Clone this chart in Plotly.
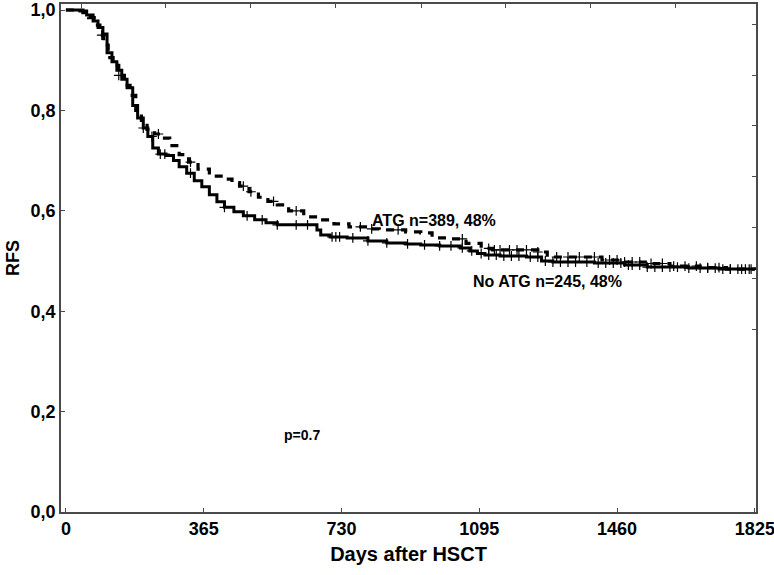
import numpy as np
import plotly.graph_objects as go

# Kaplan-Meier step points (day, RFS)
no_atg_days = [0, 20, 37, 55, 72, 85, 98, 109, 122, 135, 148, 162, 177, 190, 205, 217,
               230, 245, 265, 285, 300, 320, 340, 360, 380, 400, 420, 445, 470, 500,
               530, 560, 600, 650, 665, 675, 700, 745, 800, 850, 900, 940, 990, 1045,
               1070, 1090, 1110, 1150, 1220, 1260, 1290, 1400, 1480, 1540, 1650, 1730, 1825]
no_atg_rfs = [1.0, 1.0, 0.998, 0.99, 0.978, 0.965, 0.952, 0.915, 0.897, 0.88, 0.862, 0.845,
              0.81, 0.785, 0.765, 0.748, 0.725, 0.713, 0.71, 0.70, 0.688, 0.675, 0.66, 0.648,
              0.632, 0.618, 0.607, 0.598, 0.59, 0.582, 0.576, 0.572, 0.572, 0.572, 0.562,
              0.552, 0.548, 0.546, 0.540, 0.536, 0.534, 0.532, 0.53, 0.526, 0.52, 0.515,
              0.512, 0.51, 0.508, 0.50, 0.498, 0.496, 0.492, 0.488, 0.486, 0.484, 0.482]

atg_days = [0, 25, 45, 60, 75, 90, 100, 112, 125, 140, 155, 170, 185, 200, 215, 235, 255,
            275, 300, 325, 350, 380, 420, 440, 460, 485, 510, 535, 560, 590, 630, 675, 710,
            750, 800, 830, 900, 940, 970, 1010, 1060, 1100, 1130, 1250, 1275, 1420, 1480,
            1540, 1600, 1680, 1750, 1825]
atg_rfs = [1.0, 1.0, 0.995, 0.985, 0.97, 0.95, 0.93, 0.905, 0.89, 0.87, 0.85, 0.83, 0.80,
           0.78, 0.762, 0.753, 0.745, 0.73, 0.712, 0.697, 0.683, 0.669, 0.663, 0.656, 0.649,
           0.638, 0.627, 0.619, 0.612, 0.60, 0.588, 0.582, 0.574, 0.568, 0.564, 0.562, 0.558,
           0.556, 0.546, 0.544, 0.535, 0.525, 0.522, 0.518, 0.508, 0.502, 0.498, 0.495, 0.49,
           0.487, 0.484, 0.482]

# censored observations (days)
no_atg_censor = [205, 228, 250, 262, 330, 420, 480, 520, 560, 610, 640, 705, 715, 725, 760,
                 800, 850, 905, 950, 990, 1020, 1050, 1075, 1100, 1120, 1140, 1160, 1180,
                 1200, 1230, 1250, 1270, 1290, 1310, 1330, 1350, 1380, 1410, 1430, 1450,
                 1470, 1490, 1500, 1520, 1540, 1560, 1580, 1600, 1620, 1650, 1680, 1700,
                 1720, 1740, 1760, 1780, 1800, 1815]
atg_censor = [95, 140, 245, 330, 470, 490, 550, 610, 780, 810, 880, 1050, 1120, 1135, 1150,
              1175, 1195, 1220, 1250, 1300, 1330, 1360, 1400, 1440, 1460, 1480, 1500, 1520,
              1550, 1580, 1610, 1640, 1670, 1700, 1730, 1760, 1790, 1810]

x_ticks = [0, 365, 730, 1095, 1460, 1825]
y_ticks = [0.0, 0.2, 0.4, 0.6, 0.8, 1.0]
y_tick_text = ["0,0", "0,2", "0,4", "0,6", "0,8", "1,0"]


def step_value(days, rfs, t):
    idx = np.searchsorted(days, t, side="right") - 1
    return [rfs[i] for i in idx]


AX = "#4a4a4a"
FONT = "Liberation Sans, Arial, sans-serif"
TICKFONT = dict(size=18, family=FONT, color="black", weight="bold")

fig = go.Figure()

fig.add_trace(go.Scatter(x=atg_days, y=atg_rfs, mode="lines", line_shape="hv",
                         line=dict(color="black", width=3.2, dash="8px,7px")))
fig.add_trace(go.Scatter(x=no_atg_days, y=no_atg_rfs, mode="lines", line_shape="hv",
                         line=dict(color="black", width=3)))

fig.add_trace(go.Scatter(x=atg_censor, y=step_value(atg_days, atg_rfs, atg_censor),
                         mode="markers",
                         marker=dict(symbol="cross-thin", size=7,
                                     line=dict(color="black", width=1.2))))
fig.add_trace(go.Scatter(x=no_atg_censor, y=step_value(no_atg_days, no_atg_rfs, no_atg_censor),
                         mode="markers",
                         marker=dict(symbol="cross-thin", size=7,
                                     line=dict(color="black", width=1.2))))

# dummy trace so the top/right tick axes get drawn
fig.add_trace(go.Scatter(x=[None], y=[None], xaxis="x2", yaxis="y2", showlegend=False))

fig.add_annotation(x=975, y=0.58, text="<b>ATG n=389, 48%</b>", showarrow=False,
                   font=dict(size=16, color="black", family=FONT))
fig.add_annotation(x=1275, y=0.459, text="<b>No ATG n=245, 48%</b>", showarrow=False,
                   font=dict(size=16, color="black", family=FONT))
fig.add_annotation(x=625, y=0.153, text="<b>p=0.7</b>", showarrow=False,
                   font=dict(size=14, color="black", family=FONT))

fig.update_layout(
    width=774, height=575,
    margin=dict(l=61, r=18, t=4, b=63),
    paper_bgcolor="white", plot_bgcolor="white",
    showlegend=False,
    font=dict(family=FONT, color="black"),
    xaxis=dict(range=[-13, 1828], tickvals=x_ticks, ticks="inside", ticklen=4,
               tickcolor=AX, showline=True, linecolor=AX, linewidth=1.5,
               showgrid=False, zeroline=False, tickfont=TICKFONT,
               ticklabeloverflow="allow", automargin=False,
               title=dict(text="<b>Days after HSCT</b>", font=dict(size=20), standoff=9)),
    yaxis=dict(range=[0, 1.012], tickvals=y_ticks, ticktext=y_tick_text, ticks="inside",
               ticklen=4, tickcolor=AX, showline=True, linecolor=AX, linewidth=1.5,
               showgrid=False, zeroline=False, tickfont=TICKFONT,
               ticklabeloverflow="allow", automargin=False,
               title=dict(text="<b>RFS</b>", font=dict(size=18), standoff=6)),
    xaxis2=dict(overlaying="x", side="top", range=[0, 1],
                tickvals=[0.029, 0.151, 0.273, 0.395, 0.518, 0.640, 0.762, 0.884],
                ticks="inside", ticklen=4, tickcolor=AX, showticklabels=False,
                showline=True, linecolor=AX, linewidth=1.5, showgrid=False,
                zeroline=False, automargin=False),
    yaxis2=dict(overlaying="y", side="right", range=[0, 1],
                tickvals=[0.36, 0.46, 0.56, 0.66, 0.76, 0.86, 0.96],
                ticks="inside", ticklen=4, tickcolor=AX, showticklabels=False,
                showline=True, linecolor=AX, linewidth=1.5, showgrid=False,
                zeroline=False, automargin=False),
)

# page body has a default 8px margin; drop it so the figure sits at the window corner
fig.write_html("out.html", config={"displayModeBar": False},
               post_script="document.body.style.margin='0';")
